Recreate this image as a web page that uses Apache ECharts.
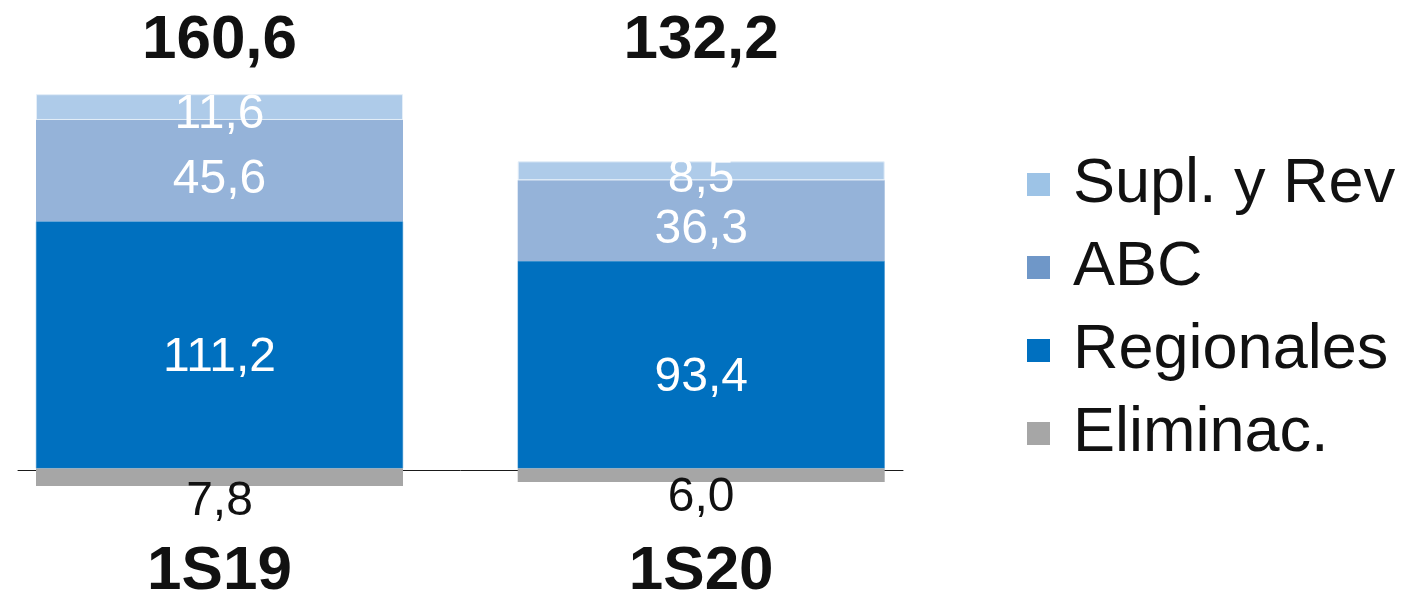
<!DOCTYPE html>
<html>
<head>
<meta charset="utf-8">
<script src="https://cdn.jsdelivr.net/npm/echarts@6/dist/echarts.min.js"></script>
<style>
  html, body { margin: 0; padding: 0; background: #fff; }
  #container { width: 1415px; height: 603px; }
</style>
</head>
<body>
<div id="container"></div>
<script type="text/javascript">
    // datos
    var periodos = ['1S19', '1S20'];
    var totales = ['160,6', '132,2'];
    var suplRev = [11.6, 8.5];
    var abc = [45.6, 36.3];
    var regionales = [111.2, 93.4];
    var eliminac = [-7.8, -6.0];

    // formato con coma decimal
    function fmt(v) {
        return Math.abs(v).toFixed(1).replace('.', ',');
    }

    var fuente = '"Liberation Sans", Arial, sans-serif';
    var anchoBarra = 367;

    var myChart = echarts.init(document.getElementById('container'));

    var etiqueta = function (desp) {
        return {
            show: true, position: 'inside', offset: [0, desp],
            color: '#fff', fontSize: 48,
            formatter: function (p) { return fmt(p.value); }
        };
    };

    var option = {
        animation: false,
        textStyle: { fontFamily: fuente },
        grid: [
            // barras: las categorias caen en los bordes (boundaryGap false)
            { left: 219.5, right: 713.8, top: 68.4, bottom: 87.6 },
            // solo para la linea base
            { left: 18, right: 512, top: 68.4, bottom: 87.6 }
        ],
        legend: {
            orient: 'vertical',
            left: 1022,
            top: 148,
            itemWidth: 23,
            itemHeight: 23,
            itemGap: 20,
            icon: 'rect',
            itemStyle: { borderWidth: 0 },
            textStyle: { fontSize: 63, color: '#111', fontFamily: fuente, padding: [0, 0, 0, 18] },
            data: [
                { name: 'Supl. y Rev', itemStyle: { color: '#9dc3e6' } },
                { name: 'ABC', itemStyle: { color: '#6f97c8' } },
                { name: 'Regionales', itemStyle: { color: '#0070c0' } },
                { name: 'Eliminac.', itemStyle: { color: '#a6a6a6' } }
            ]
        },
        xAxis: [
            {
                type: 'category',
                gridIndex: 0,
                boundaryGap: false,
                data: periodos,
                axisLine: { show: false, onZero: false },
                axisTick: { show: false },
                splitLine: { show: false },
                axisLabel: { margin: 28, fontSize: 62, fontWeight: 'bold', color: '#111' }
            },
            {
                type: 'category',
                gridIndex: 0,
                boundaryGap: false,
                position: 'top',
                data: totales,
                axisLine: { show: false, onZero: false },
                axisTick: { show: false },
                splitLine: { show: false },
                axisLabel: { margin: -4, fontSize: 62, fontWeight: 'bold', color: '#111' }
            },
            {
                type: 'value',
                gridIndex: 1,
                min: 0,
                max: 1,
                axisLine: { show: true, onZero: true, lineStyle: { color: '#1a1a1a', width: 1 } },
                axisTick: { show: false },
                axisLabel: { show: false },
                splitLine: { show: false }
            }
        ],
        yAxis: [
            { type: 'value', gridIndex: 0, min: -20, max: 180, show: false },
            { type: 'value', gridIndex: 1, min: -20, max: 180, show: false, splitLine: { show: false } }
        ],
        series: [
            {
                name: 'Regionales',
                type: 'bar',
                stack: 'total',
                clip: false,
                barWidth: anchoBarra,
                data: regionales,
                itemStyle: { color: '#0070bf', borderColor: '#2a86c8', borderWidth: 0.5 },
                label: etiqueta(13)
            },
            {
                name: 'ABC',
                type: 'bar',
                stack: 'total',
                clip: false,
                barWidth: anchoBarra,
                data: abc,
                itemStyle: { color: '#95b3d9' },
                label: etiqueta(9)
            },
            {
                name: 'Supl. y Rev',
                type: 'bar',
                stack: 'total',
                clip: false,
                barWidth: anchoBarra,
                data: suplRev,
                itemStyle: { color: '#aecbe9', borderColor: '#e4eef8', borderWidth: 1 },
                label: etiqueta(8)
            },
            {
                name: 'Eliminac.',
                type: 'bar',
                stack: 'total',
                clip: false,
                barWidth: anchoBarra,
                data: eliminac,
                itemStyle: { color: '#a6a6a6' },
                label: {
                    show: true, position: 'bottom', distance: -8,
                    color: '#111', fontSize: 48,
                    formatter: function (p) { return fmt(p.value); }
                }
            },
            {
                // serie vacia para la linea base
                type: 'line',
                xAxisIndex: 2,
                yAxisIndex: 1,
                data: [],
                silent: true
            }
        ]
    };

    myChart.setOption(option);
</script>
</body>
</html>
